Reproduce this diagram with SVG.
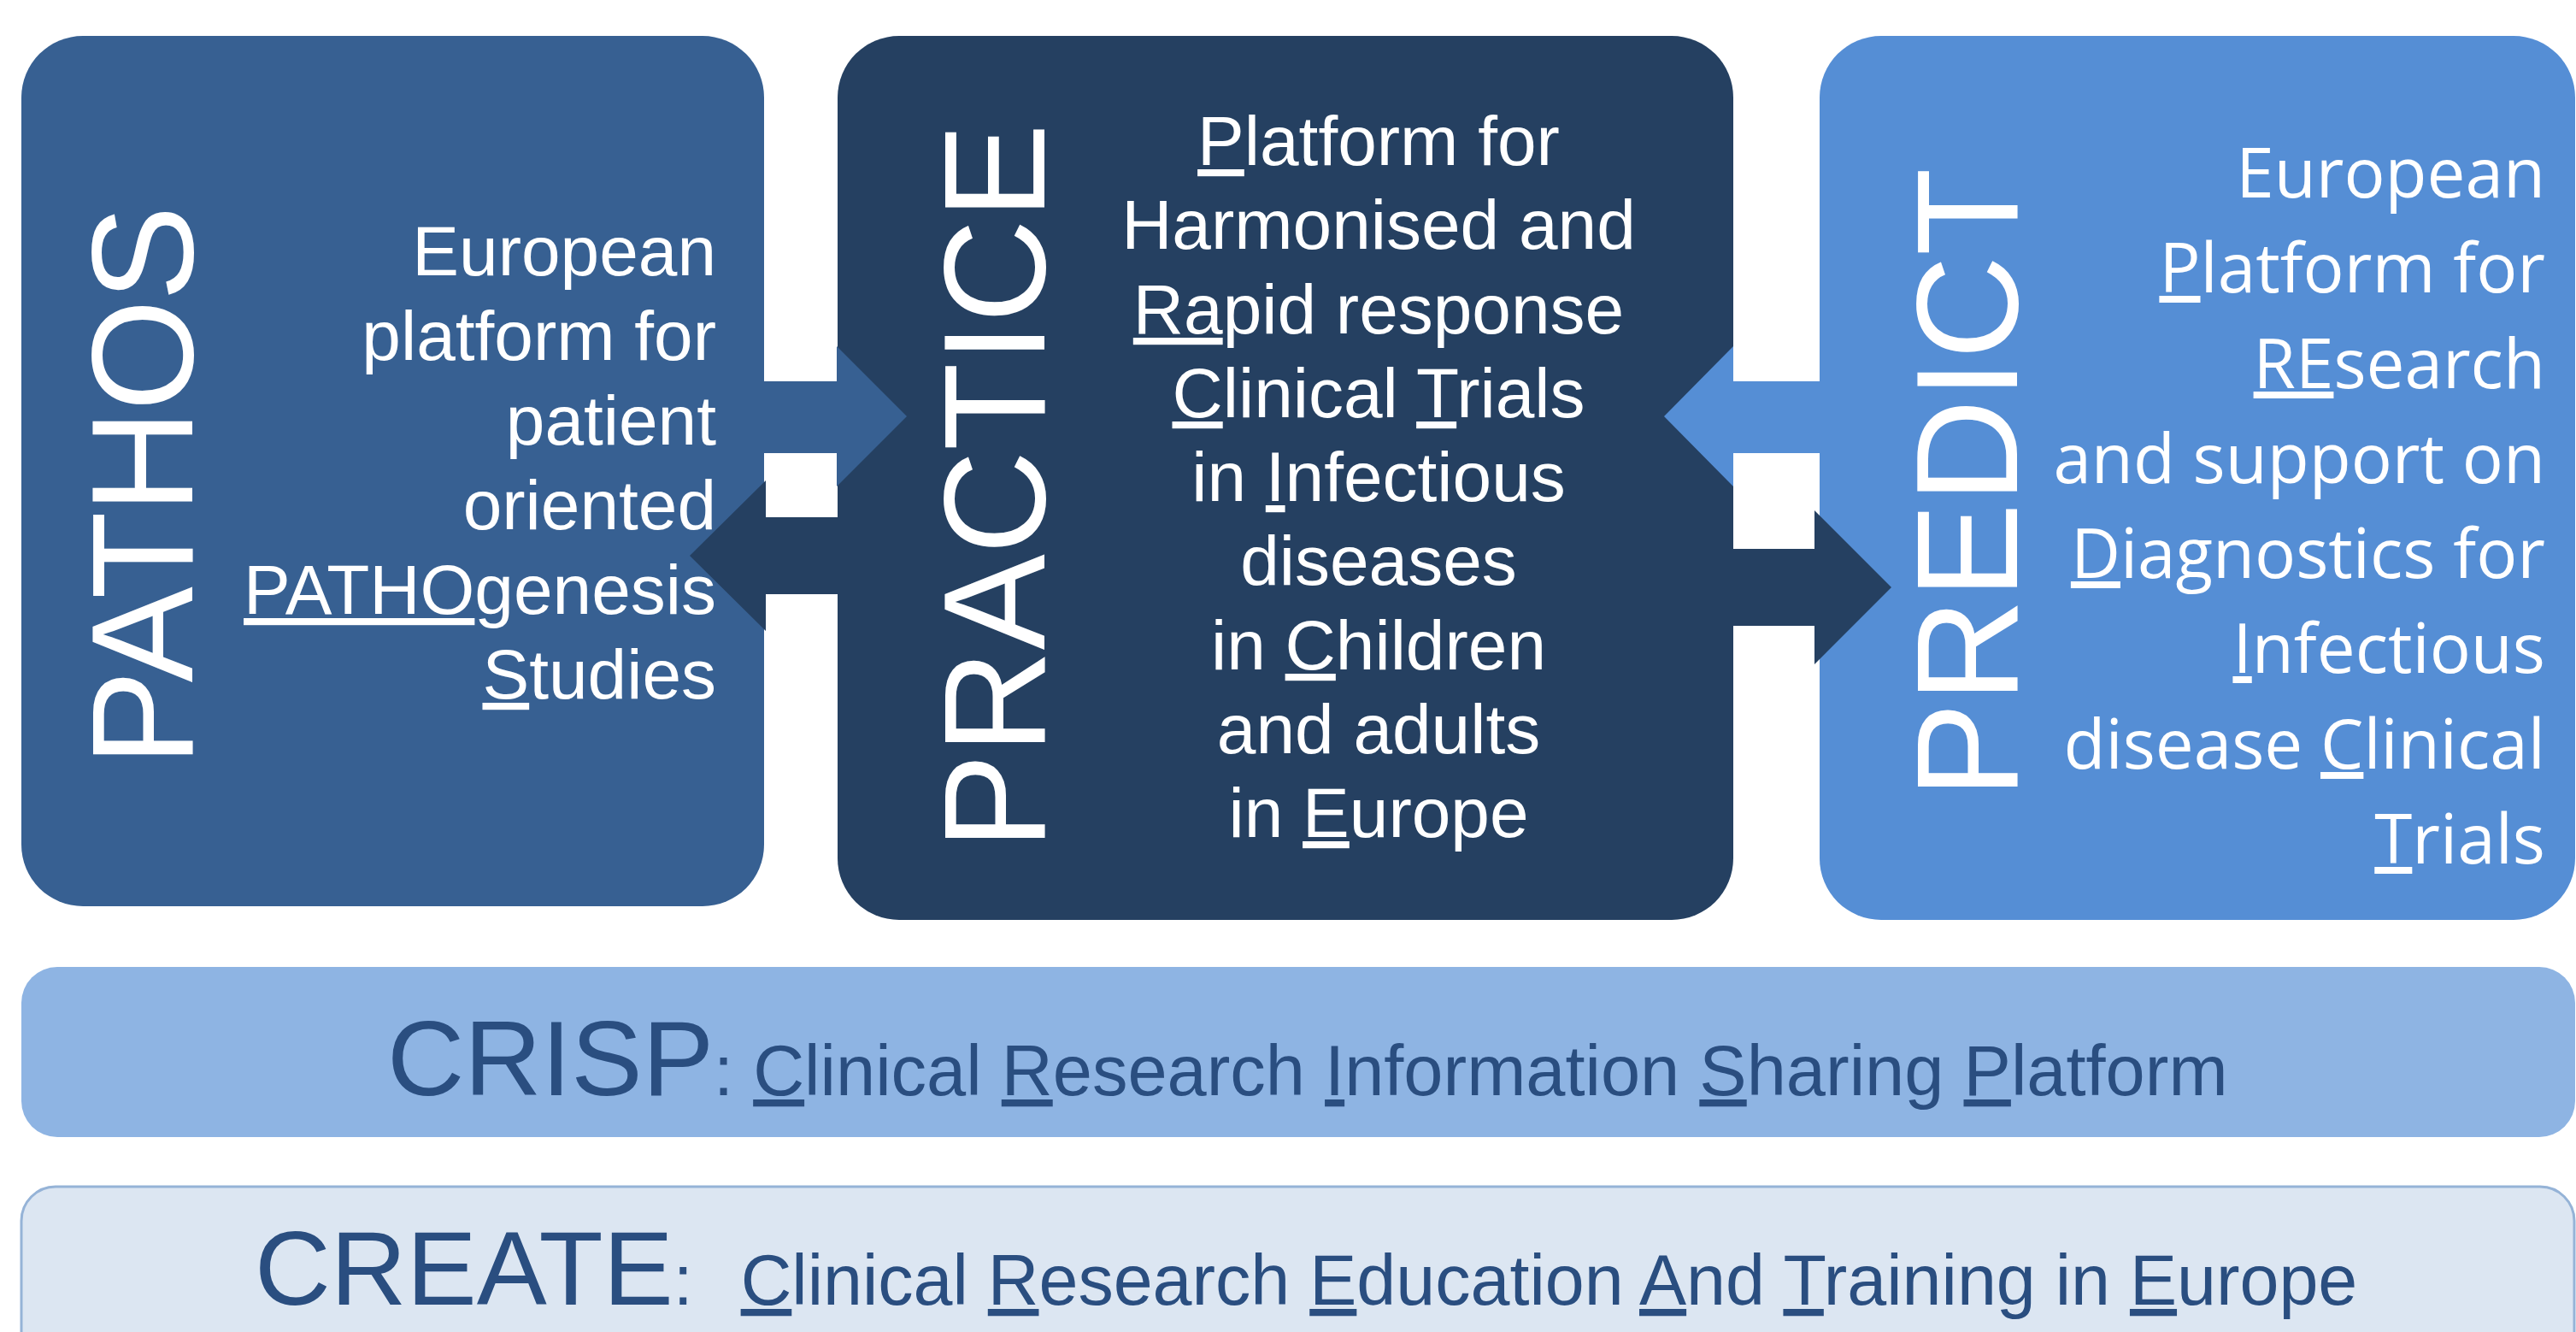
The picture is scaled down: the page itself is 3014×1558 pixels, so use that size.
<svg xmlns="http://www.w3.org/2000/svg" width="3014" height="1558" viewBox="0 0 3014 1558">
  <style>
    .title { font-family: "Liberation Sans", Arial, sans-serif; font-size: 168px; fill: #ffffff; text-anchor: middle; }
    .desc { font-family: "Liberation Sans", Arial, sans-serif; font-size: 82px; fill: #ffffff; }
    .descP { font-family: "Open Sans", "Liberation Sans", sans-serif; font-size: 80px; fill: #ffffff; text-anchor: end; }
    .u { text-decoration: underline; }
    .ub { text-decoration: underline; text-decoration-thickness: 9px; text-underline-offset: 15px; }
    .bartext { font-family: "Liberation Sans", Arial, sans-serif; fill: #2A4E80; }
  </style>
  <rect width="3014" height="1558" fill="#ffffff"/>

  <g id="pathos">
    <rect x="25" y="42" width="869" height="1018" rx="72" fill="#376092"/>
    <text class="title" transform="translate(225,569) rotate(-90)" letter-spacing="-2">PATHOS</text>
    <g class="desc" text-anchor="end">
      <text x="838" y="322">European</text>
      <text x="838" y="421">platform for</text>
      <text x="838" y="520">patient</text>
      <text x="838" y="619">oriented</text>
      <text x="838" y="718"><tspan class="u">PATHO</tspan>genesis</text>
      <text x="838" y="817"><tspan class="u">S</tspan>tudies</text>
    </g>
  </g>

  <g id="practice">
    <rect x="980" y="42" width="1048" height="1034" rx="72" fill="#254061"/>
    <text class="title" transform="translate(1222,569) rotate(-90)">PRACTICE</text>
    <g class="desc" text-anchor="middle">
      <text x="1613" y="193"><tspan class="u">P</tspan>latform for</text>
      <text x="1613" y="291">Harmonised and</text>
      <text x="1613" y="390"><tspan class="u">Ra</tspan>pid response</text>
      <text x="1613" y="488"><tspan class="u">C</tspan>linical <tspan class="u">T</tspan>rials</text>
      <text x="1613" y="586">in <tspan class="u">I</tspan>nfectious</text>
      <text x="1613" y="684">diseases</text>
      <text x="1613" y="783">in <tspan class="u">C</tspan>hildren</text>
      <text x="1613" y="881">and adults</text>
      <text x="1613" y="979">in <tspan class="u">E</tspan>urope</text>
    </g>
  </g>

  <g id="predict">
    <rect x="2129" y="42" width="884" height="1034" rx="72" fill="#558ED5"/>
    <text class="title" transform="translate(2360,565) rotate(-90)">PREDICT</text>
    <g class="descP">
      <text x="2978" y="231">European</text>
      <text x="2978" y="342"><tspan class="u">P</tspan>latform for</text>
      <text x="2978" y="454"><tspan class="u">RE</tspan>search</text>
      <text x="2978" y="565">and support on</text>
      <text x="2978" y="676"><tspan class="u">D</tspan>iagnostics for</text>
      <text x="2978" y="787"><tspan class="u">I</tspan>nfectious</text>
      <text x="2978" y="899">disease <tspan class="u">C</tspan>linical</text>
      <text x="2978" y="1010"><tspan class="u">T</tspan>rials</text>
    </g>
  </g>

  <g id="crisp">
    <rect x="25" y="1131" width="2988" height="199" rx="42" fill="#8EB4E3"/>
    <text class="bartext" x="453" y="1281" xml:space="preserve"><tspan font-size="125">CRISP</tspan><tspan font-size="83">: <tspan class="ub">C</tspan>linical <tspan class="ub">R</tspan>esearch <tspan class="ub">I</tspan>nformation <tspan class="ub">S</tspan>haring <tspan class="ub">P</tspan>latform</tspan></text>
  </g>

  <g id="create">
    <rect x="25" y="1388" width="2987" height="230" rx="40" fill="#DCE6F2" stroke="#95B3D7" stroke-width="3"/>
    <text class="bartext" x="298" y="1526" xml:space="preserve"><tspan font-size="123">CREATE</tspan><tspan font-size="82.6">:  <tspan class="ub" dx="10">C</tspan>linical <tspan class="ub">R</tspan>esearch <tspan class="ub">E</tspan>ducation <tspan class="ub">A</tspan>nd <tspan class="ub">T</tspan>raining in <tspan class="ub">E</tspan>urope</tspan></text>
  </g>

  <g id="connectors">
    <polygon id="pathos-to-practice" fill="#376092" points="890,446 979,446 979,405 1061,487 979,569 979,530 890,530"/>
    <polygon id="practice-to-pathos" fill="#254061" points="983,605 896,605 896,562 807,650 896,738 896,695 983,695"/>
    <polygon id="predict-to-practice" fill="#558ED5" points="2132,446 2028,446 2028,405 1947,487 2028,569 2028,530 2132,530"/>
    <polygon id="practice-to-predict" fill="#254061" points="2025,642 2123,642 2123,597 2213,687 2123,777 2123,732 2025,732"/>
  </g>
</svg>
